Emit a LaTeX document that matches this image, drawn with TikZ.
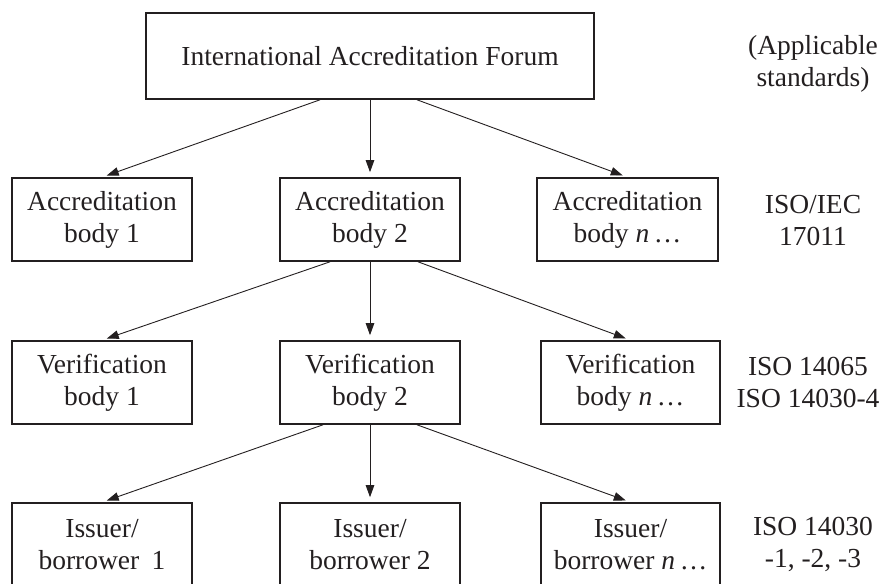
\documentclass[tikz,border=0pt]{standalone}
\usepackage{fontspec}
\setmainfont{Liberation Serif}
\usetikzlibrary{arrows.meta}
\definecolor{ink}{HTML}{231F20}
\tikzset{
  box/.style={draw=ink, line width=1.6pt, rectangle, align=center, inner sep=0pt,
    minimum height=83pt, text=ink, font=\fontsize{27.5}{32}\selectfont},
  lbl/.style={align=center, inner sep=0pt, text=ink, font=\fontsize{27.5}{32}\selectfont},
  arr/.style={draw=ink, line width=0.9pt, -{Triangle[length=12pt,width=8.5pt]}, shorten >=5pt},
}
\begin{document}
\begin{tikzpicture}[x=1pt,y=-1pt]
\useasboundingbox (0,0) rectangle (885,583);
\clip (0,0) rectangle (885,583);
% top
\node[box, minimum width=448pt, minimum height=86pt] (iaf) at (370,56) {International Accreditation Forum};
% row 2
\node[box, minimum width=180pt] (a1) at (102,219.5) {Accreditation\\body 1};
\node[box, minimum width=180pt] (a2) at (370,219.5) {Accreditation\\body 2};
\node[box, minimum width=181pt] (a3) at (627.5,219.5) {Accreditation\\body \textit{n}\,\ldots};
% row 3
\node[box, minimum width=180pt] (v1) at (102,382.5) {Verification\\body 1};
\node[box, minimum width=180pt] (v2) at (370,382.5) {Verification\\body 2};
\node[box, minimum width=179pt] (v3) at (630.5,382.5) {Verification\\body \textit{n}\,\ldots};
% row 4
\node[box, minimum width=180pt] (i1) at (102,544.5) {Issuer/\\borrower\hspace{0.45em}1};
\node[box, minimum width=180pt] (i2) at (370,544.5) {Issuer/\\borrower 2};
\node[box, minimum width=179pt] (i3) at (630.5,544.5) {Issuer/\\borrower \textit{n}\,\ldots};
% right labels
\node[lbl] (s0) at (813,63.5) {(Applicable\\standards)};
\node[lbl] (s1) at (813,221) {ISO/IEC\\17011};
\node[lbl] (s2) at (808,382.5) {ISO 14065\\ISO 14030-4};
\node[lbl] (s3) at (813,544.5) {ISO 14030\\-1, -2, -3};
% arrows
\draw[arr] ([xshift=-50pt]iaf.south) -- (a1.north);
\draw[arr] (iaf.south) -- (a2.north);
\draw[arr] ([xshift=47pt]iaf.south) -- (a3.north);
\draw[arr] ([xshift=-40pt]a2.south) -- (v1.north);
\draw[arr] (a2.south) -- (v2.north);
\draw[arr] ([xshift=48pt]a2.south) -- (v3.north);
\draw[arr] ([xshift=-47pt]v2.south) -- (i1.north);
\draw[arr] (v2.south) -- (i2.north);
\draw[arr] ([xshift=47pt]v2.south) -- (i3.north);
\end{tikzpicture}
\end{document}
